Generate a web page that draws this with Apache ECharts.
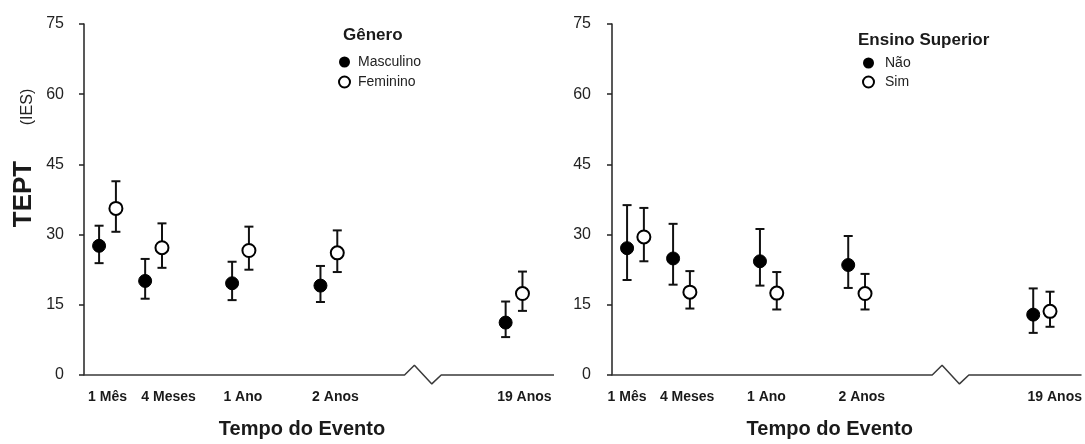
<!DOCTYPE html>
<html>
<head>
<meta charset="utf-8">
<script src="https://cdn.jsdelivr.net/npm/echarts@6/dist/echarts.min.js"></script>
<style>
html,body{margin:0;padding:0;background:#fff;}
#chart{width:1085px;height:444px;}
</style>
</head>
<body>
<div id="chart"></div>
<script>
// ---- data ----
var timeLabels = ['1 Mês', '4 Meses', '1 Ano', '2 Anos', '19 Anos'];
var groupPos = [0.5, 1.48, 3.33, 5.21, 9.15];          // x position of each time point (axis units)
var labelPosLeft = [0.5, 1.8, 3.38, 5.35, 9.37];       // tick label positions, left panel
var labelPosRight = [0.32, 1.6, 3.29, 5.32, 9.43];     // tick label positions, right panel
var yTicks = [0, 15, 30, 45, 60, 75];

// Left panel: Gênero
var mascMean  = [27.6, 20.1, 19.6, 19.1, 11.2];
var mascUpper = [31.9, 24.8, 24.2, 23.3, 15.7];
var mascLower = [23.9, 16.3, 16.0, 15.6, 8.1];
var femMean   = [35.6, 27.2, 26.6, 26.1, 17.4];
var femUpper  = [41.4, 32.4, 31.7, 30.9, 22.1];
var femLower  = [30.6, 22.9, 22.5, 22.0, 13.7];

// Right panel: Ensino Superior
var naoMean  = [27.1, 24.9, 24.3, 23.5, 12.9];
var naoUpper = [36.3, 32.3, 31.2, 29.7, 18.5];
var naoLower = [20.3, 19.3, 19.1, 18.6, 9.0];
var simMean  = [29.5, 17.7, 17.5, 17.4, 13.6];
var simUpper = [35.7, 22.2, 22.0, 21.6, 17.8];
var simLower = [24.3, 14.2, 14.0, 14.0, 10.3];

// broken x-axis line (axis units): start, break start, peak, dip, break end, end
var axisBreakX = [0, 6.82, 7.03, 7.4, 7.6, 10];
var axisBreakY = [0, 0, 2.1, -1.9, 0, 0];

var DODGE = 0.179;
var FONT = "'Liberation Sans', Arial, sans-serif";
var INK = '#1a1a1a';

function points(mean, sign) {
  return mean.map(function (m, i) { return [groupPos[i] + sign * DODGE, m]; });
}
function bars(lower, upper, sign) {
  return lower.map(function (l, i) { return [groupPos[i] + sign * DODGE, l, upper[i]]; });
}
function errorSeries(idx, lower, upper, sign) {
  return {
    type: 'custom', name: 'err' + idx + sign, xAxisIndex: idx, yAxisIndex: idx, z: 2, silent: true,
    data: bars(lower, upper, sign),
    renderItem: function (params, api) {
      var x = api.value(0);
      var lo = api.coord([x, api.value(1)]);
      var hi = api.coord([x, api.value(2)]);
      var cap = 4.5;
      var st = { stroke: '#111', lineWidth: 2 };
      return { type: 'group', children: [
        { type: 'line', shape: { x1: lo[0], y1: lo[1], x2: hi[0], y2: hi[1] }, style: st },
        { type: 'line', shape: { x1: hi[0] - cap, y1: hi[1], x2: hi[0] + cap, y2: hi[1] }, style: st },
        { type: 'line', shape: { x1: lo[0] - cap, y1: lo[1], x2: lo[0] + cap, y2: lo[1] }, style: st }
      ]};
    }
  };
}
function axisLineSeries(idx) {
  return {
    type: 'line', name: 'axis' + idx, xAxisIndex: idx, yAxisIndex: idx, symbol: 'none', clip: false, silent: true,
    z: 1,
    data: axisBreakX.map(function (x, i) { return [x, axisBreakY[i]]; }),
    lineStyle: { color: '#3a3a3a', width: 1.5 }
  };
}
function pointSeries(idx, name, mean, sign, filled) {
  return {
    type: 'scatter', name: name, xAxisIndex: idx, yAxisIndex: idx, z: 3,
    symbol: 'circle', symbolSize: 13,
    data: points(mean, sign),
    itemStyle: filled ? { color: '#000', borderColor: '#000', borderWidth: 1, opacity: 1 }
                      : { color: '#fff', borderColor: '#000', borderWidth: 2, opacity: 1 }
  };
}
function xAxisDef(idx, labelPos) {
  return {
    type: 'value', gridIndex: idx, min: 0, max: 10,
    axisLine: { show: false }, axisTick: { show: false }, splitLine: { show: false },
    axisLabel: {
      customValues: labelPos,
      margin: 15, fontSize: 14, fontWeight: 'bold', color: INK, fontFamily: FONT,
      formatter: function (v) {
        var best = 0, d = Infinity;
        labelPos.forEach(function (p, i) { if (Math.abs(p - v) < d) { d = Math.abs(p - v); best = i; } });
        return timeLabels[best];
      }
    },
    name: 'Tempo do Evento', nameLocation: 'middle', nameGap: 44,
    nameTextStyle: { fontSize: 20, fontWeight: 'bold', color: INK, fontFamily: FONT, padding: [0, 34, 0, 0] }
  };
}
function yAxisDef(idx, off) {
  return {
    type: 'value', gridIndex: idx, min: yTicks[0], max: yTicks[yTicks.length - 1], interval: 15, offset: off,
    axisLine: { show: true, lineStyle: { color: '#222', width: 1.5 } },
    axisTick: { show: true, length: 5, lineStyle: { color: '#222', width: 1.5 } },
    splitLine: { show: false },
    axisLabel: { fontSize: 16, color: '#222', margin: 14, fontFamily: FONT }
  };
}

var chart = echarts.init(document.getElementById('chart'), null, { renderer: 'canvas' });
chart.setOption({
  animation: false,
  backgroundColor: '#fff',
  grid: [
    { left: 84, top: 24, width: 470, height: 354 },
    { left: 612, top: 24, width: 470, height: 354 }
  ],
  xAxis: [xAxisDef(0, labelPosLeft), xAxisDef(1, labelPosRight)],
  yAxis: [yAxisDef(0, 6), yAxisDef(1, 7)],
  title: [
    { text: 'Gênero', left: 343, top: 27, padding: 0,
      textStyle: { fontSize: 17, fontWeight: 'bold', color: INK, fontFamily: FONT } },
    { text: 'Ensino Superior', left: 858, top: 32, padding: 0,
      textStyle: { fontSize: 17, fontWeight: 'bold', color: INK, fontFamily: FONT } }
  ],
  legend: [
    { orient: 'vertical', left: 338, top: 55, padding: 0, itemWidth: 17, itemHeight: 11, itemGap: 6,
      selectedMode: false, textStyle: { fontSize: 14, color: '#222', fontFamily: FONT },
      data: [
        { name: 'Masculino', icon: 'circle', itemStyle: { color: '#000', borderWidth: 0 } },
        { name: 'Feminino', icon: 'circle', itemStyle: { color: '#fff', borderColor: '#000', borderWidth: 2 } }
      ] },
    { orient: 'vertical', left: 862, top: 56, padding: 0, itemWidth: 23, itemHeight: 11, itemGap: 5,
      selectedMode: false, textStyle: { fontSize: 14, color: '#222', fontFamily: FONT },
      data: [
        { name: 'Não', icon: 'circle', itemStyle: { color: '#000', borderWidth: 0 } },
        { name: 'Sim', icon: 'circle', itemStyle: { color: '#fff', borderColor: '#000', borderWidth: 2 } }
      ] }
  ],
  graphic: [
    { type: 'text', x: 24, y: 194, rotation: Math.PI / 2,
      style: { text: 'TEPT', font: 'bold 26px ' + FONT, fill: INK, textAlign: 'center', textVerticalAlign: 'middle' } },
    { type: 'text', x: 28, y: 107, rotation: Math.PI / 2,
      style: { text: '(IES)', font: '16px ' + FONT, fill: '#222', textAlign: 'center', textVerticalAlign: 'middle' } }
  ],
  series: [
    axisLineSeries(0), axisLineSeries(1),
    errorSeries(0, mascLower, mascUpper, -1), errorSeries(0, femLower, femUpper, 1),
    errorSeries(1, naoLower, naoUpper, -1), errorSeries(1, simLower, simUpper, 1),
    pointSeries(0, 'Masculino', mascMean, -1, true), pointSeries(0, 'Feminino', femMean, 1, false),
    pointSeries(1, 'Não', naoMean, -1, true), pointSeries(1, 'Sim', simMean, 1, false)
  ]
});
</script>
</body>
</html>
